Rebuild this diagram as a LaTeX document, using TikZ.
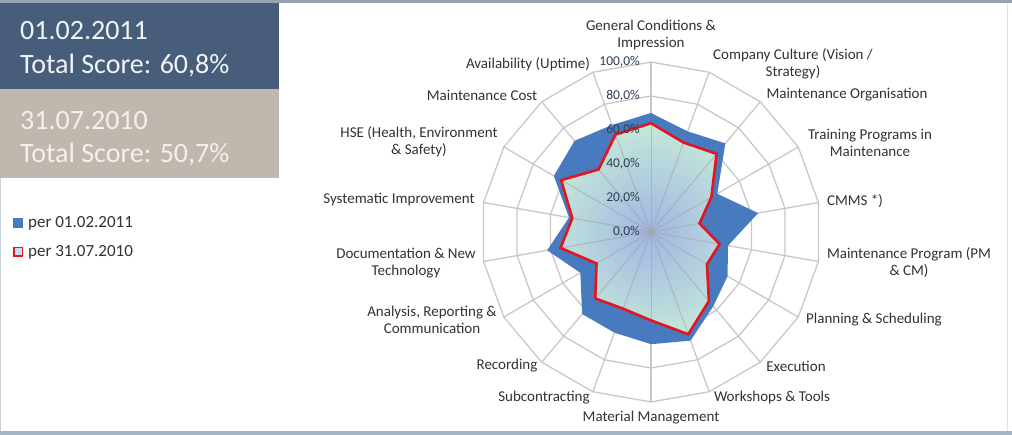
\documentclass[tikz,border=0pt]{standalone}
\usepackage{fontspec}
\setmainfont{Carlito}
\definecolor{boxdark}{RGB}{71,93,122}
\definecolor{boxbeige}{RGB}{192,184,174}
\definecolor{beigetext}{RGB}{246,240,232}
\definecolor{darktext}{RGB}{240,244,248}
\definecolor{framegray}{RGB}{150,162,176}
\definecolor{framebot}{RGB}{165,180,196}
\definecolor{gridgray}{RGB}{200,200,200}
\definecolor{labelgray}{RGB}{50,50,50}
\definecolor{valtext}{RGB}{46,62,80}
\definecolor{bluefill}{RGB}{72,122,192}
\definecolor{redline}{RGB}{230,20,30}
\definecolor{gradin}{RGB}{160,182,228}
\definecolor{gradout}{RGB}{204,242,214}
\definecolor{legfill}{RGB}{200,222,240}
\begin{document}
\begin{tikzpicture}[x=1pt,y=-1pt,
  lbl/.style={font=\fontsize{15}{17}\selectfont, text=labelgray, align=center, inner sep=0pt},
  boxtext/.style={font=\fontsize{28}{30}\selectfont, anchor=west, inner sep=0pt},
  legtext/.style={font=\fontsize{17}{19}\selectfont, text=labelgray, anchor=west, inner sep=0pt},
  vallbl/.style={font=\fontsize{13.5}{15}\selectfont, text=valtext, anchor=east, inner sep=0pt},
  gridline/.style={draw=gridgray, line width=1.3pt},
  spokein/.style={draw=gridgray!80!black, line width=1pt, opacity=0.55},
  redoutline/.style={draw=redline, line width=2.6pt, line join=miter},
]
\useasboundingbox (0,0) rectangle (1012,435);
\fill[white] (0,0) rectangle (1012,435);
% frame
\fill[framegray] (0,0) rectangle (1012,3);
\fill[framebot] (0,431) rectangle (1012,435);
\draw[framebot!60, line width=1pt] (0.5,3) -- (0.5,431);
\draw[framebot!40, line width=1pt] (1007,3) -- (1007,431);

% score boxes
\fill[boxdark] (0,3) rectangle (279,89);
\fill[boxbeige] (0,89) rectangle (279,178);
\node[boxtext, text=darktext] (d1) at (20,31) {01.02.2011};
\node[boxtext, text=darktext] (s1) at (20,66) {Total Score: 60,8\%};
\node[boxtext, text=beigetext] (d2) at (20,121) {31.07.2010};
\node[boxtext, text=beigetext] (s2) at (20,155) {Total Score: 50,7\%};

% legend
\fill[bluefill] (13,218) rectangle (23,228);
\node[legtext] (lg1) at (28,223) {per 01.02.2011};
\draw[redline, fill=legfill, line width=1.5pt] (14,247.5) rectangle (22.5,256);
\node[legtext] (lg2) at (28,252) {per 31.07.2010};

% chart geometry
\coordinate (c) at (651,232);
\foreach \i in {0,...,17}{
  \coordinate (a\i) at ({651+170*cos(90-20*\i)},{232-170*sin(90-20*\i)});
}
% rings
\foreach \k in {1,...,5}{
  \draw[gridline] ({651+34*\k*cos(90)},{232-34*\k*sin(90)})
    \foreach \i in {1,...,17}{ -- ({651+34*\k*cos(90-20*\i)},{232-34*\k*sin(90-20*\i)}) } -- cycle;
}
% spokes
\foreach \i in {0,...,17}{ \draw[gridline] (c) -- (a\i); }

% data 01.02.2011
\foreach \v [count=\j from 0] in {70,63,68,45,64,46,52,57,68,66,63,63,48,62,49,66,70,67}{
  \coordinate (b\j) at ({651+1.7*\v*cos(90-20*\j)},{232-1.7*\v*sin(90-20*\j)});
}
% data 31.07.2010
\foreach \v [count=\j from 0] in {64,56,60,41,29,41,38,53,64,52,48,51,37,54,47,61,48,61}{
  \coordinate (r\j) at ({651+1.7*\v*cos(90-20*\j)},{232-1.7*\v*sin(90-20*\j)});
}
\fill[bluefill] (b0) \foreach \i in {1,...,17}{ -- (b\i) } -- cycle;
\begin{scope}
  \clip (r0) \foreach \i in {1,...,17}{ -- (r\i) } -- cycle;
  \shade[inner color=gradin, outer color=gradout] (c) circle (130);
  \foreach \i in {0,...,17}{ \draw[spokein] (c) -- (a\i); }
\end{scope}
\draw[redoutline] (r0) \foreach \i in {1,...,17}{ -- (r\i) } -- cycle;

% value labels
\node[vallbl] (v0) at (640,232) {0,0\%};
\node[vallbl] (v1) at (640,198) {20,0\%};
\node[vallbl] (v2) at (640,164) {40,0\%};
\node[vallbl] (v3) at (640,130) {60,0\%};
\node[vallbl] (v4) at (640,96) {80,0\%};
\node[vallbl] (v5) at (640,62) {100,0\%};

% axis labels
\node[lbl] (l0) at (651,35) {General Conditions \&\\Impression};
\node[lbl] (l1) at (793,64) {Company Culture (Vision /\\Strategy)};
\node[lbl] (l2) at (847,95) {Maintenance Organisation};
\node[lbl] (l3) at (870,143) {Training Programs in\\Maintenance};
\node[lbl] (l4) at (855,201) {CMMS *)};
\node[lbl] (l5) at (909,263) {Maintenance Program (PM\\\& CM)};
\node[lbl] (l6) at (874,320) {Planning \& Scheduling};
\node[lbl] (l7) at (796,366) {Execution};
\node[lbl] (l8) at (772,398) {Workshops \& Tools};
\node[lbl] (l9) at (651,418) {Material Management};
\node[lbl] (l10) at (544,398) {Subcontracting};
\node[lbl] (l11) at (507,366) {Recording};
\node[lbl] (l12) at (432,320) {Analysis, Reporting \&\\Communication};
\node[lbl] (l13) at (406,263) {Documentation \& New\\Technology};
\node[lbl] (l14) at (399,200) {Systematic Improvement};
\node[lbl] (l15) at (419,142) {HSE (Health, Environment\\\& Safety)};
\node[lbl] (l16) at (482,95) {Maintenance Cost};
\node[lbl] (l17) at (528,64) {Availability (Uptime)};
\end{tikzpicture}
\end{document}
